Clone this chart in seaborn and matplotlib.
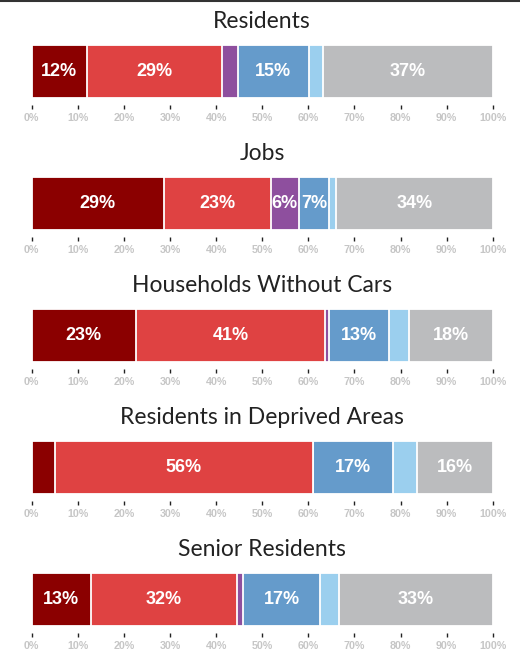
import matplotlib
matplotlib.use('Agg')
import matplotlib.pyplot as plt
from matplotlib.lines import Line2D
from matplotlib.ticker import FuncFormatter
import seaborn as sns
import pandas as pd

sns.set_theme(style='white')
plt.rcParams['font.family'] = ['Lato', 'DejaVu Sans']

# Panel titles
panels = ['Residents', 'Jobs', 'Households Without Cars',
          'Residents in Deprived Areas', 'Senior Residents']

# Share (%) of each segment, one value per panel
seg_dark_red = [12.0, 28.7, 22.6, 5.0, 12.8]
seg_red = [29.2, 23.2, 41.0, 56.0, 31.7]
seg_purple = [3.5, 6.0, 0.8, 0.0, 1.4]
seg_blue = [15.4, 6.6, 13.0, 17.3, 16.7]
seg_light_blue = [3.0, 1.5, 4.5, 5.3, 4.0]
seg_grey = [36.9, 34.0, 18.1, 16.4, 33.4]

segments = [seg_dark_red, seg_red, seg_purple, seg_blue, seg_light_blue, seg_grey]
colors = ['#8b0000', '#df4242', '#8e4f9e', '#659bcb', '#9bcfee', '#bbbcbe']

ticks = [0, 10, 20, 30, 40, 50, 60, 70, 80, 90, 100]

W, H = 520, 651
fig = plt.figure(figsize=(W / 100, H / 100), dpi=100)

bar_tops = [45, 177, 309, 441, 573]
bar_h = 53
gap = 7
x0, x1 = 31.7, 492.7

for i, title in enumerate(panels):
    top = bar_tops[i]
    ax_h = bar_h + gap
    ax = fig.add_axes([x0 / W, 1 - (top + ax_h) / H, (x1 - x0) / W, ax_h / H])

    values = [seg[i] for seg in segments]
    cum = pd.Series(values).cumsum()
    df = pd.DataFrame({'panel': title, 'end': cum.values, 'value': values})

    # stacked look: draw cumulative bars from longest to shortest
    for j in reversed(range(len(values))):
        sns.barplot(data=df.iloc[[j]], x='end', y='panel', color=colors[j],
                    width=1, edgecolor='white', linewidth=1.3,
                    saturation=1, ax=ax)

    starts = cum - pd.Series(values)
    for v, s in zip(values, starts):
        if v >= 5.5:
            ax.text(s + v / 2, 0, f'{round(v)}%', ha='center', va='center',
                    color='white', fontsize=13, fontweight='bold',
                    family=['Liberation Sans', 'DejaVu Sans'])

    ax.set_xlim(0, 100)
    ax.set_ylim(0.5 + gap / bar_h, -0.5)
    ax.set_xticks(ticks)
    ax.xaxis.set_major_formatter(FuncFormatter(lambda v, p: f'{int(v)}%'))
    ax.set_yticks([])
    ax.set_xlabel('')
    ax.set_ylabel('')
    for sp in ax.spines.values():
        sp.set_visible(False)
    ax.tick_params(axis='x', bottom=True, direction='out', length=3, width=1,
                   color='#222222', pad=2.5, labelsize=7.7, labelcolor='#c6c6c6')
    for lbl in ax.get_xticklabels():
        lbl.set_fontweight('bold')
        lbl.set_family(['Liberation Sans', 'DejaVu Sans'])

    fig.text(0.5 * (x0 + x1) / W, 1 - (top - 23) / H, title, ha='center',
             va='center', fontsize=16.5, color='#222222')

# thin dark rule along the top edge
fig.add_artist(Line2D([0, 1], [1 - 1 / H, 1 - 1 / H], transform=fig.transFigure,
                      color='#333333', linewidth=1.5))

plt.savefig('out.png', dpi=100)
